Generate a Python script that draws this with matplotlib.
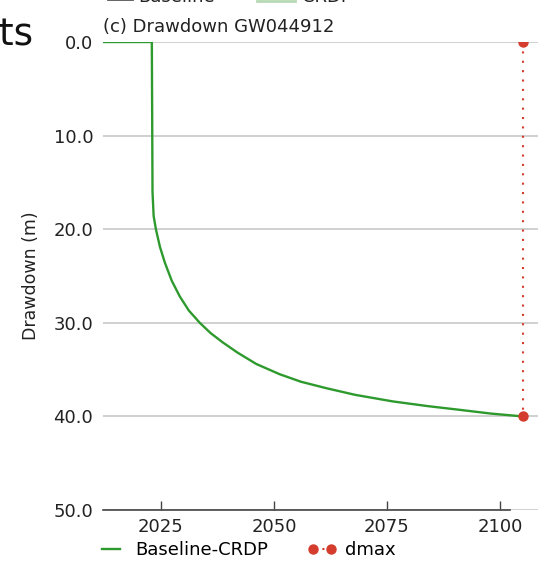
import matplotlib
matplotlib.use("Agg")
import matplotlib.pyplot as plt
from matplotlib.lines import Line2D
from matplotlib.ticker import FormatStrFormatter

# Baseline-CRDP drawdown at GW044912 (years, metres below start)
years = [2012.0, 2023.0, 2023.15, 2023.4, 2023.9, 2024.8, 2025.9, 2027.4,
         2029.2, 2031.2, 2033.6, 2036.0, 2038.7, 2042.0, 2046.1, 2051.3,
         2056.0, 2061.7, 2068.0, 2076.3, 2084.0, 2091.1, 2098.0, 2105.0]
drawdown = [0.0, 0.0, 16.0, 18.6, 20.0, 21.9, 23.6, 25.5,
            27.2, 28.7, 30.0, 31.1, 32.1, 33.2, 34.4, 35.5,
            36.3, 37.0, 37.7, 38.4, 38.9, 39.3, 39.7, 40.0]

# maximum drawdown marker
dmax_year = [2105.0, 2105.0]
dmax_vals = [0.0, 40.0]

xticks = [2025, 2050, 2075, 2100]
yticks = [0, 10, 20, 30, 40, 50]

green = "#2e9a2e"
red = "#d43d2e"
fs = 13

fig = plt.figure(figsize=(5.38, 5.62), dpi=100)
W, H = 538, 562
ax = fig.add_axes([103 / W, 52 / H, 1 - 103 / W, (510 - 42) / H])

base, = ax.plot(years, drawdown, color=green, lw=1.7, label="Baseline-CRDP",
                zorder=3)
dmax, = ax.plot(dmax_year, dmax_vals, color=red, lw=1.5,
                linestyle=(0, (1, 3.5)), marker="o", markersize=6.5,
                label="dmax", zorder=4)
# clip with the axes patch so marks on the top edge get cut in half
base.set_clip_path(ax.patch)
dmax.set_clip_path(ax.patch)

ax.set_xlim(2012.2, 2108.4)
ax.set_ylim(50, 0)
ax.set_xticks(xticks)
ax.set_yticks(yticks)
ax.yaxis.set_major_formatter(FormatStrFormatter("%.1f"))

ax.grid(axis="y", color="#c8c8c8", lw=1.2, zorder=0)
ax.set_axisbelow(True)
for side in ["top", "right", "left"]:
    ax.spines[side].set_visible(False)
ax.spines["bottom"].set_color("#444444")
ax.spines["bottom"].set_linewidth(1.2)
ax.spines["bottom"].set_bounds(2012.2, 2102.2)
ax.spines["bottom"].set_zorder(2)

ax.tick_params(axis="x", direction="in", length=6.5, width=1.0,
               color="#444444", labelsize=fs, labelcolor="#222222", pad=6)
ax.tick_params(axis="y", length=0, labelsize=fs, labelcolor="#222222", pad=7)

ax.set_ylabel("Drawdown (m)", fontsize=fs - 0.5, color="#222222", labelpad=10)
ax.set_title("(c) Drawdown GW044912", loc="left", fontsize=fs,
             color="#222222", pad=7)

fig.legend(loc="center left", bbox_to_anchor=(97 / W, 12 / H), ncol=2,
           frameon=False, fontsize=fs, borderpad=0, borderaxespad=0,
           handlelength=1.6, handletextpad=0.5, columnspacing=2.2,
           numpoints=2)

# neighbouring panel pieces at the figure edges
fig.text(-0.5 / W, (H - 46) / H, "ts", fontsize=27, color="#111111",
         ha="left", va="baseline")
fig.text(138 / W, (H - 2) / H, "Baseline", fontsize=fs, color="#222222",
         ha="left", va="baseline")
fig.text(302 / W, (H - 2) / H, "CRDP", fontsize=fs, color="#222222",
         ha="left", va="baseline")
fig.add_artist(Line2D([108 / W, 132 / W], [(H + 1) / H] * 2,
                      transform=fig.transFigure, color="#555555", lw=2))
fig.add_artist(Line2D([257 / W, 295 / W], [(H - 0.5) / H] * 2,
                      transform=fig.transFigure, color="#b5d9b5", lw=2))

fig.savefig("out.png", dpi=100)
